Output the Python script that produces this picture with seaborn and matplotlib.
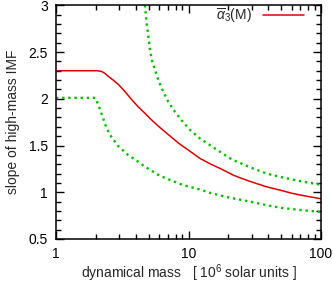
import numpy as np
import pandas as pd
import matplotlib
matplotlib.use('Agg')
import matplotlib.pyplot as plt
import matplotlib.ticker as mticker
import seaborn as sns

# values
mass_red = [1.0, 1.5, 2.05, 2.2, 2.35, 2.48, 2.7, 2.95, 3.3, 3.73, 4.2, 4.7, 5.12, 6.0, 7.0, 8.5, 10.0,
            12.2, 15.0, 17.3, 20.0, 21.8, 25.0, 30.0, 38.9, 50.0, 60.0, 70.0, 80.0, 100.0]
alpha_red = [2.30, 2.30, 2.30, 2.293, 2.27, 2.24, 2.20, 2.155, 2.08, 1.99, 1.91, 1.844, 1.79, 1.70,
             1.62, 1.52, 1.45, 1.362, 1.295, 1.255, 1.21, 1.183, 1.15, 1.11, 1.058, 1.02, 0.99,
             0.97, 0.955, 0.93]

mass_low = [1.0, 1.5, 1.98, 2.05, 2.15, 2.27, 2.41, 2.63, 2.95, 3.51, 4.3, 4.56, 5.12, 6.0, 7.0,
            9.14, 12.2, 14.5, 20.0, 30.0, 38.9, 50.0, 70.0, 100.0]
alpha_low = [2.01, 2.01, 2.01, 1.96, 1.883, 1.79, 1.683, 1.587, 1.494, 1.397, 1.315, 1.285, 1.24,
             1.18, 1.14, 1.076, 1.03, 0.994, 0.945, 0.896, 0.862, 0.833, 0.81, 0.79]

mass_up = [4.6, 4.70, 4.83, 4.98, 5.12, 5.33, 5.58, 5.92, 6.45, 7.04, 7.9, 8.87, 10.3,
           12.2, 15.0, 20.0, 21.8, 25.0, 30.0, 38.9, 50.0, 70.0, 100.0]
alpha_up = [3.08, 2.985, 2.807, 2.664, 2.52, 2.40, 2.31, 2.20, 2.075, 1.968, 1.86, 1.77, 1.665,
            1.576, 1.49, 1.374, 1.344, 1.308, 1.26, 1.20, 1.162, 1.118, 1.08]

red = pd.DataFrame({'mass': mass_red, 'alpha': alpha_red})
low = pd.DataFrame({'mass': mass_low, 'alpha': alpha_low})
up = pd.DataFrame({'mass': mass_up, 'alpha': alpha_up})

sns.set_theme(style='ticks')
plt.rcParams['font.family'] = ['Liberation Sans', 'DejaVu Sans']
plt.rcParams['mathtext.fontset'] = 'custom'
plt.rcParams['mathtext.rm'] = 'Liberation Sans'
plt.rcParams['mathtext.it'] = 'Liberation Sans:italic'

fig = plt.figure(figsize=(3.33, 2.84), dpi=100)
ax = fig.add_axes([56 / 333, 45 / 284, 265 / 333, 233.7 / 284])

green = '#00c000'
sns.lineplot(data=red, x='mass', y='alpha', ax=ax, color='#e00000', lw=1.1,
             label=r'$\overline{\alpha}_3$(M)')
for d in (low, up):
    sns.lineplot(data=d, x='mass', y='alpha', ax=ax, color=green, lw=1.7,
                 linestyle=(0, (1, 1.6)), dash_capstyle='butt', legend=False)

ax.set_xscale('log')
ax.set_xlim(1, 100)
ax.set_ylim(0.5, 3)
ax.xaxis.set_major_locator(mticker.FixedLocator([1, 10, 100]))
ax.xaxis.set_major_formatter(mticker.FixedFormatter(['1', '10', '100']))
ax.xaxis.set_minor_locator(mticker.LogLocator(base=10, subs=np.arange(2, 10)))
ax.xaxis.set_minor_formatter(mticker.NullFormatter())
ax.yaxis.set_major_locator(mticker.MultipleLocator(0.5))
ax.yaxis.set_minor_locator(mticker.MultipleLocator(0.1))
ax.yaxis.set_major_formatter(mticker.FuncFormatter(lambda v, p: f'{v:g}'))

ax.tick_params(which='both', direction='in', top=True, right=True, labelsize=10,
               colors='black', width=1)
ax.tick_params(which='major', length=6)
ax.tick_params(which='minor', length=3.5)
ax.tick_params(axis='y', which='major', pad=6)
ax.tick_params(axis='x', which='major', pad=6)
for s in ax.spines.values():
    s.set_linewidth(1.1)
    s.set_color('black')

ax.set_xlabel(r'dynamical mass   [ 10$^6$ solar units ]', fontsize=10, labelpad=1)
ax.set_ylabel('slope of high-mass IMF', fontsize=10, labelpad=6)

ax.legend(loc='upper right', bbox_to_anchor=(0.957, 1.018), borderaxespad=0,
          frameon=False, markerfirst=False, handlelength=2.95, fontsize=10,
          handletextpad=0.8)

fig.savefig('out.png', dpi=100)
